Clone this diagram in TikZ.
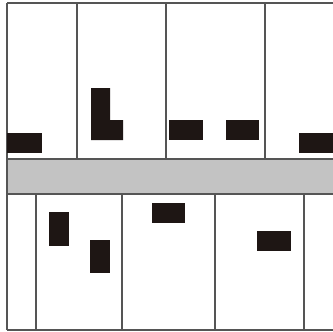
\documentclass[tikz,border=0pt]{standalone}
\definecolor{linegray}{HTML}{555555}
\definecolor{bandgray}{HTML}{C3C3C3}
\definecolor{blockblack}{HTML}{1E1614}
\begin{document}
\begin{tikzpicture}[x=1pt,y=-1pt,
  wall/.style={draw=linegray,line width=1.1pt},
  block/.style={fill=blockblack}]
\useasboundingbox (0,0) rectangle (333,332);
\fill[white] (0,0) rectangle (333,332);
% gray band
\fill[bandgray] (7,159) rectangle (333,194);
% horizontal lines
\draw[wall] (7,3) -- (333,3);
\draw[wall] (7,159) -- (333,159);
\draw[wall] (7,194) -- (333,194);
\draw[wall] (7,330) -- (333,330);
% left edge
\draw[wall] (7,3) -- (7,330);
% top partitions
\foreach \x in {77,166,265} \draw[wall] (\x,3) -- (\x,159);
% bottom partitions
\foreach \x in {36,122,215,304} \draw[wall] (\x,194) -- (\x,330);
% top blocks
\fill[block] (7,133) rectangle (42,153);
\fill[block] (91,88) -- (110,88) -- (110,120) -- (123,120) -- (123,140) -- (91,140) -- cycle;
\fill[block] (169,120) rectangle (203,140);
\fill[block] (226,120) rectangle (259,140);
\fill[block] (299,133) rectangle (333,153);
% bottom blocks
\fill[block] (49,212) rectangle (69,246);
\fill[block] (90,240) rectangle (110,273);
\fill[block] (152,203) rectangle (185,223);
\fill[block] (257,231) rectangle (291,251);
\end{tikzpicture}
\end{document}
